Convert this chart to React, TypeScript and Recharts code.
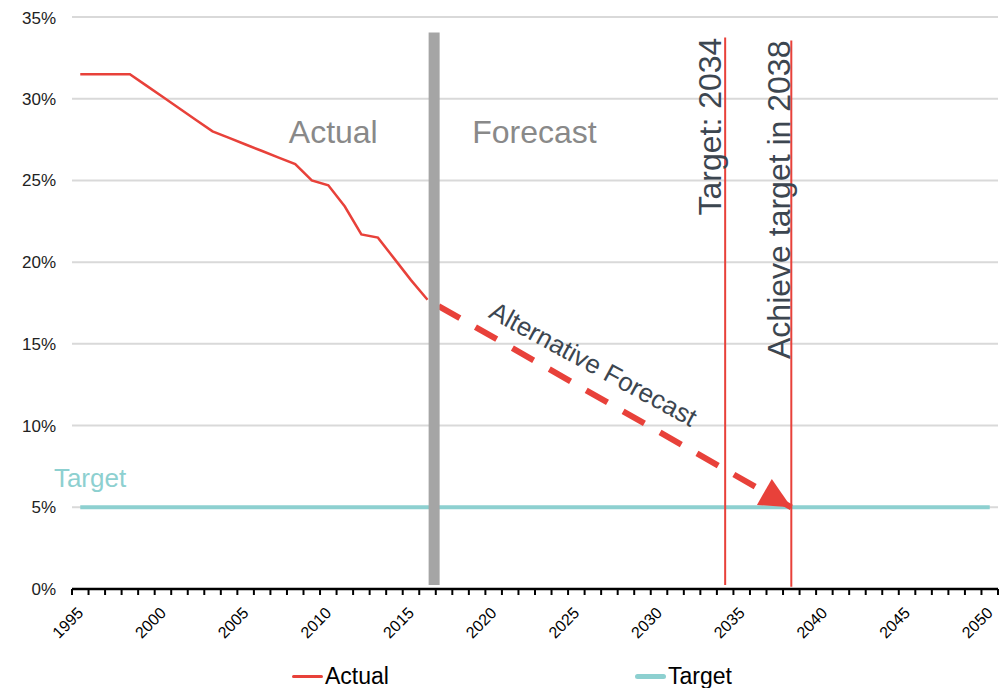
import { LineChart, Line, XAxis, YAxis, CartesianGrid, ReferenceLine, ReferenceDot } from 'recharts';

const actualYears = [1995, 1996, 1997, 1998, 1999, 2000, 2001, 2002, 2003, 2004, 2005, 2006, 2007, 2008, 2009, 2010, 2011, 2012, 2013, 2014, 2015, 2016];
const actualValues = [31.5, 31.5, 31.5, 31.5, 30.8, 30.1, 29.4, 28.7, 28.0, 27.6, 27.2, 26.8, 26.4, 26.0, 25.0, 24.7, 23.4, 21.7, 21.5, 20.2, 18.9, 17.7];
const forecastYears = [2016, 2038];
const forecastValues = [17.7, 5];
const targetYears = [1995, 2050];
const targetValues = [5, 5];

const yTicks = [0, 5, 10, 15, 20, 25, 30, 35];
const xLabelYears = [1995, 2000, 2005, 2010, 2015, 2020, 2025, 2030, 2035, 2040, 2045, 2050];
const firstYear = 1995;
const lastYear = 2050;

const splitYear = 2016.4;
const targetYear = 2034;
const achieveYear = 2038;

const legendItems = [
  { name: 'Actual', color: '#E8413A', thickness: 3 },
  { name: 'Target', color: '#8DD0D0', thickness: 5 },
];

const RED = '#E8413A';
const TEAL = '#8DD0D0';
const FONT = '"Liberation Sans", Arial, sans-serif';

const actualData = actualYears.map((year, i) => ({ year, value: actualValues[i] }));
const forecastData = forecastYears.map((year, i) => ({ year, value: forecastValues[i] }));
const targetData = targetYears.map((year, i) => ({ year, value: targetValues[i] }));

// tick marks sit between the years, labels sit on the years
const boundaryTicks = Array.from({ length: lastYear - firstYear + 2 }, (_, i) => firstYear - 0.5 + i);
const xDomain = [firstYear - 0.5, lastYear + 0.5];

const NoLabel = () => <g />;

const YearTick = ({ x, y, payload }: any) => {
  const ax = x + 4;
  const ay = y + 15;
  return (
    <text x={ax} y={ay} transform={`rotate(-45 ${ax} ${ay})`} textAnchor="end" fontSize={16} fill="#000" fontFamily={FONT}>
      {payload.value}
    </text>
  );
};

const VerticalNote = ({ viewBox, text, dx }: any) => {
  if (!viewBox) return null;
  const x = viewBox.x + dx;
  const y = viewBox.y;
  return (
    <text x={x} y={y} transform={`rotate(-90 ${x} ${y})`} textAnchor="end" fontSize={32} fill="#3C4650" fontFamily={FONT}>
      {text}
    </text>
  );
};

const ArrowHead = (props: any) => {
  const { cx, cy, index, points } = props;
  if (index !== forecastYears.length - 1 || cx == null) return <g key={`arrow-${index}`} />;
  const prev = points && points[index - 1];
  const angle = prev ? (Math.atan2(cy - prev.y, cx - prev.x) * 180) / Math.PI : 29.7;
  return (
    <polygon
      key={`arrow-${index}`}
      points="0,0 -31,-15 -31,15"
      transform={`translate(${cx} ${cy}) rotate(${angle})`}
      fill={RED}
    />
  );
};

const textShape = (text: string, fill: string, size: number, angle = 0) => (p: any) => (
  <text
    x={p.cx}
    y={p.cy}
    transform={angle ? `rotate(${angle} ${p.cx} ${p.cy})` : undefined}
    textAnchor="middle"
    fontSize={size}
    fill={fill}
    fontFamily={FONT}
  >
    {text}
  </text>
);

const App = () => {
  return (
    <div style={{ position: 'relative', width: 999, height: 680, fontFamily: FONT }}>
      <LineChart width={999} height={680} margin={{ top: 9, right: 9, left: 0, bottom: 49 }}>
        <CartesianGrid horizontal vertical={false} stroke="#D9D9D9" strokeWidth={2} />
        <XAxis
          dataKey="year"
          type="number"
          domain={xDomain}
          allowDataOverflow
          ticks={boundaryTicks}
          interval={0}
          tick={<NoLabel />}
          tickSize={6}
          height={10}
          axisLine={{ stroke: '#000', strokeWidth: 2.5 }}
          tickLine={{ stroke: '#000', strokeWidth: 2 }}
        />
        <XAxis
          xAxisId="labels"
          dataKey="year"
          type="number"
          domain={xDomain}
          allowDataOverflow
          ticks={xLabelYears}
          interval={0}
          axisLine={false}
          tickLine={false}
          tickSize={0}
          tickMargin={0}
          height={40}
          tick={<YearTick />}
        />
        <YAxis
          type="number"
          domain={[0, 35]}
          ticks={yTicks}
          width={64}
          axisLine={false}
          tickLine={false}
          tickSize={0}
          tickMargin={16}
          tickFormatter={(v: number) => `${v}%`}
          tick={{ fontSize: 17, fill: '#222', fontFamily: FONT }}
        />

        <Line
          data={targetData}
          dataKey="value"
          stroke={TEAL}
          strokeWidth={4}
          dot={false}
          activeDot={false}
          isAnimationActive={false}
        />
        <Line
          data={actualData}
          dataKey="value"
          stroke={RED}
          strokeWidth={2.5}
          dot={false}
          activeDot={false}
          isAnimationActive={false}
        />
        <Line
          data={forecastData}
          dataKey="value"
          stroke={RED}
          strokeWidth={6}
          strokeDasharray="24.5 18"
          strokeDashoffset={29.8}
          dot={<ArrowHead />}
          activeDot={false}
          isAnimationActive={false}
        />

        <ReferenceLine
          segment={[{ x: splitYear, y: 0.25 }, { x: splitYear, y: 34.05 }]}
          stroke="#A5A5A5"
          strokeWidth={11}
        />
        <ReferenceLine
          segment={[{ x: targetYear, y: 0.24 }, { x: targetYear, y: 33.74 }]}
          stroke={RED}
          strokeWidth={2}
          label={<VerticalNote text="Target: 2034" dx={-4} />}
        />
        <ReferenceLine
          segment={[{ x: achieveYear, y: 0.14 }, { x: achieveYear, y: 33.56 }]}
          stroke={RED}
          strokeWidth={2}
          label={<VerticalNote text="Achieve target in 2038" dx={-1} />}
        />

        <ReferenceDot x={2010.3} y={27.28} r={0} shape={textShape('Actual', '#898989', 32)} />
        <ReferenceDot x={2022.47} y={27.28} r={0} shape={textShape('Forecast', '#898989', 32)} />
        <ReferenceDot x={1995.59} y={6.26} r={0} shape={textShape('Target', TEAL, 26)} />
        <ReferenceDot x={2025.77} y={13.28} r={0} shape={textShape('Alternative Forecast', '#3C4650', 26, 28.5)} />
      </LineChart>

      <div style={{ position: 'absolute', left: 284, top: 655, display: 'flex', alignItems: 'center', fontSize: 23, color: '#000' }}>
        {legendItems.map((item, i) => (
          <div key={item.name} style={{ display: 'flex', alignItems: 'center', marginLeft: i === 0 ? 0 : 246 }}>
            <span
              style={{
                display: 'inline-block',
                width: 31,
                height: item.thickness,
                background: item.color,
                borderRadius: item.thickness / 2,
                marginRight: 2,
              }}
            />
            <span>{item.name}</span>
          </div>
        ))}
      </div>
    </div>
  );
};

export default App;
